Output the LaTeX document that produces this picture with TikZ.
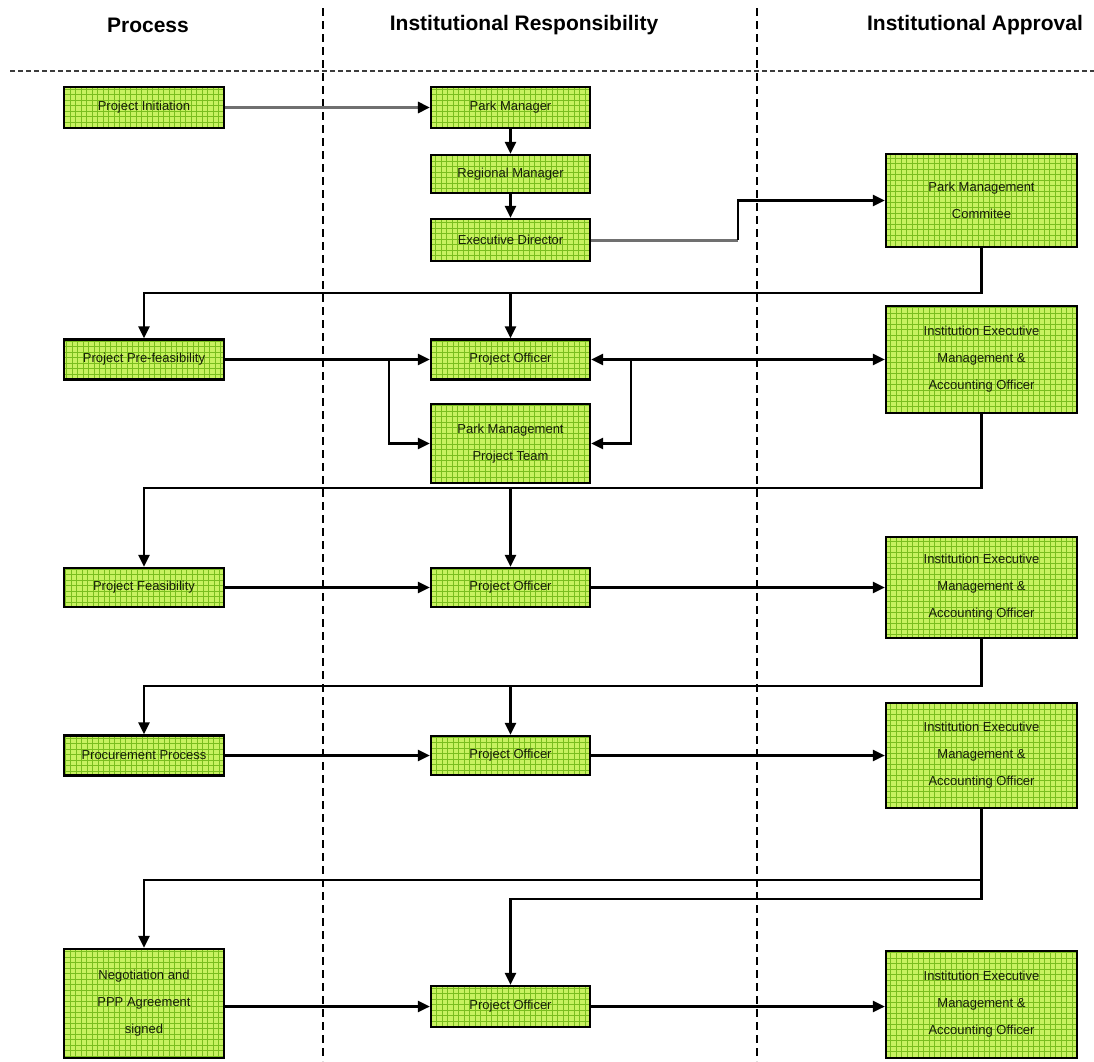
\documentclass[tikz,border=0pt]{standalone}
\usepackage{fontspec}
\setmainfont{Liberation Sans}
\usetikzlibrary{arrows.meta}

\definecolor{boxfill}{RGB}{200,242,96}
\definecolor{boxgrid}{RGB}{122,190,30}
\definecolor{boxtext}{RGB}{22,30,10}
\definecolor{feedgrey}{RGB}{112,112,112}
\definecolor{rulegrey}{RGB}{60,60,60}

\tikzset{
  stagebox/.style={draw=black,line width=2.2pt,fill=boxfill,text=boxtext,align=center,inner sep=0pt,
    font=\fontsize{13}{27}\selectfont,
    path picture={\draw[boxgrid,line width=0.6pt] (path picture bounding box.south west) grid[step=5.5pt] (path picture bounding box.north east);}},
  procbox/.style={stagebox,minimum width=160pt},
  respbox/.style={stagebox,minimum width=159pt},
  apprbox/.style={stagebox,minimum width=191pt},
  lanehead/.style={font=\bfseries\fontsize{21}{25}\selectfont,inner sep=0pt},
  flow/.style={line width=2.4pt,draw=black},
  feedline/.style={line width=3pt,draw=feedgrey},
  lanedash/.style={line width=1.6pt,dash pattern=on 8pt off 5pt},
  headdash/.style={line width=2.8pt,draw=rulegrey,dash pattern=on 5pt off 3pt}
}

\begin{document}
\begin{tikzpicture}[x=1pt,y=-1pt,>={Triangle[length=12pt,width=11pt,color=black]},line join=miter]
\useasboundingbox (0,0) rectangle (1094,1061);

% lanes
\node[lanehead] (hdproc) at (148,25) {Process};
\node[lanehead] (hdresp) at (524,25) {Institutional Responsibility};
\node[lanehead] (hdappr) at (975,25) {Institutional Approval};
\draw[lanedash] (323,8) -- (323,1061);
\draw[lanedash] (757,8) -- (757,1061);
\draw[headdash] (10,71) -- (1094,71);

% process column
\node[procbox,minimum height=41pt] (init) at (144,107.5) {Project Initiation};
\node[procbox,minimum height=40pt] (prefeas) at (144,359.5) {Project Pre-feasibility};
\node[procbox,minimum height=39pt] (feas) at (144,587.5) {Project Feasibility};
\node[procbox,minimum height=40pt] (procure) at (144,755.5) {Procurement Process};
\node[procbox,minimum height=109pt] (negot) at (144,1003.5) {Negotiation and\\PPP Agreement\\signed};

% responsibility column
\node[respbox,minimum height=41pt] (parkmgr) at (510.5,107.5) {Park Manager};
\node[respbox,minimum height=38pt] (regmgr) at (510.5,174) {Regional Manager};
\node[respbox,minimum height=42pt] (execdir) at (510.5,240) {Executive Director};
\node[respbox,minimum height=40pt] (officerA) at (510.5,359.5) {Project Officer};
\node[respbox,minimum height=79pt] (team) at (510.5,443.5) {Park Management\\Project Team};
\node[respbox,minimum height=39pt] (officerB) at (510.5,587.5) {Project Officer};
\node[respbox,minimum height=39pt] (officerC) at (510.5,755.5) {Project Officer};
\node[respbox,minimum height=41pt] (officerD) at (510.5,1006.5) {Project Officer};

% approval column
\node[apprbox,minimum height=93pt] (committee) at (981.5,200.5) {Park Management\\Commitee};
\node[apprbox,minimum height=107pt] (instA) at (981.5,359.5) {Institution Executive\\Management \&\\Accounting Officer};
\node[apprbox,minimum height=101pt] (instB) at (981.5,587.5) {Institution Executive\\Management \&\\Accounting Officer};
\node[apprbox,minimum height=105pt] (instC) at (981.5,755.5) {Institution Executive\\Management \&\\Accounting Officer};
\node[apprbox,minimum height=107pt] (instD) at (981.5,1004.5) {Institution Executive\\Management \&\\Accounting Officer};

% bends
\coordinate (jogA) at (738,240);
\coordinate (busA) at (981.5,293);
\coordinate (splitL) at (389,359.5);
\coordinate (splitR) at (631,359.5);
\coordinate (busB) at (981.5,488);
\coordinate (busC) at (981.5,686);
\coordinate (busD) at (981.5,880);
\coordinate (busE) at (981.5,899);

% initiation
\draw[feedline,->] (init) -- (parkmgr);
\draw[flow,->] (parkmgr) -- (regmgr);
\draw[flow,->] (regmgr) -- (execdir);
\draw[feedline] (execdir.east) -- (jogA);
\draw[flow,->] (jogA) |- (committee.west);

% pre-feasibility
\draw[flow,->] (committee.south) -- (busA) -| (prefeas.north);
\draw[flow,->] (officerA.north |- busA) -- (officerA.north);
\draw[flow,->] (prefeas) -- (officerA);
\draw[flow,->] (splitL) |- (team.west);
\draw[flow,<->] (officerA) -- (instA);
\draw[flow,->] (splitR) |- (team.east);

% feasibility
\draw[flow,->] (instA.south) -- (busB) -| (feas.north);
\draw[flow,->] (officerB.north |- busB) -- (officerB.north);
\draw[flow,->] (feas) -- (officerB);
\draw[flow,->] (officerB) -- (instB);

% procurement
\draw[flow,->] (instB.south) -- (busC) -| (procure.north);
\draw[flow,->] (officerC.north |- busC) -- (officerC.north);
\draw[flow,->] (procure) -- (officerC);
\draw[flow,->] (officerC) -- (instC);

% negotiation
\draw[flow,->] (instC.south) -- (busE) -| (officerD.north);
\draw[flow,->] (busD) -| (negot.north);
\draw[flow,->] (negot.east |- officerD.west) -- (officerD.west);
\draw[flow,->] (officerD.east) -- (officerD.east -| instD.west);
\end{tikzpicture}
\end{document}
